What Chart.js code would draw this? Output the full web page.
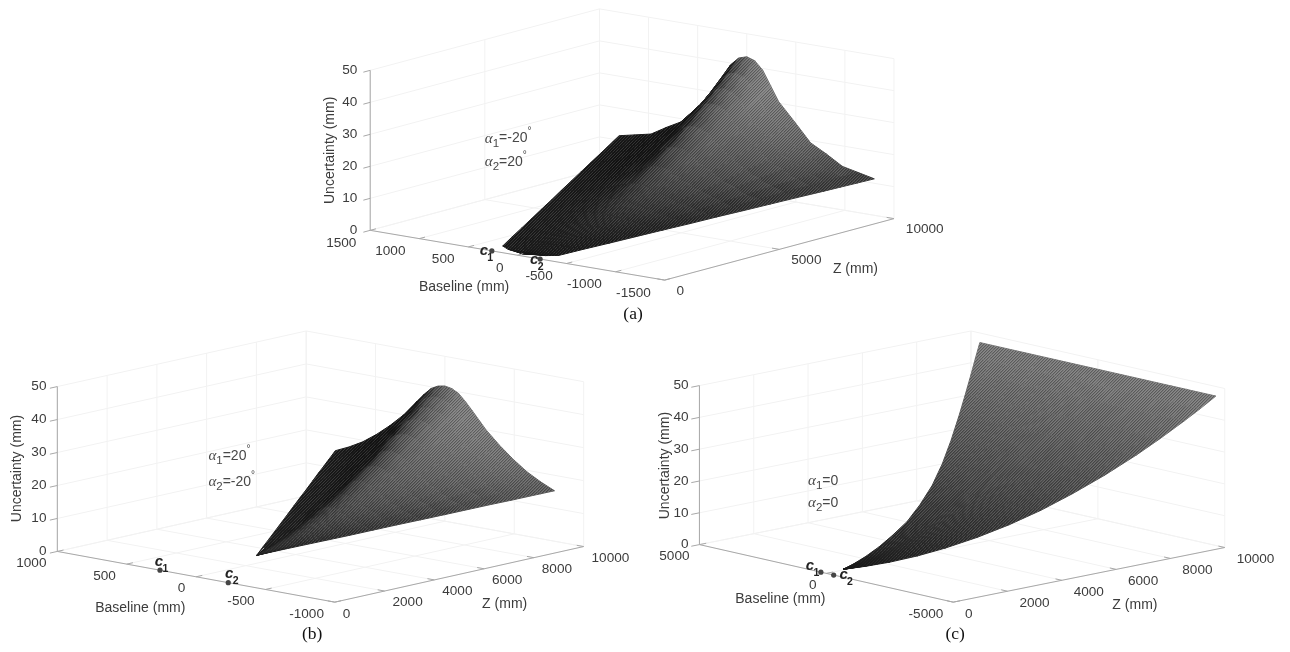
<!DOCTYPE html>
<html>
<head>
<meta charset="utf-8">
<title>Uncertainty surfaces</title>
<script src="https://cdn.jsdelivr.net/npm/chart.js@4"></script>
<style>
  html, body { margin: 0; padding: 0; background: #fff; }
  body { position: relative; width: 1290px; height: 652px; overflow: hidden; }
  canvas { position: absolute; filter: blur(0.4px); }
</style>
</head>
<body>
<canvas id="chartA" width="680" height="328" style="left:300px;top:0"></canvas>
<canvas id="chartB" width="640" height="326" style="left:0;top:326px"></canvas>
<canvas id="chartC" width="640" height="326" style="left:650px;top:326px"></canvas>
<script>
// Shared axis ticks
const uncertaintyTicks = [0, 10, 20, 30, 40, 50];
// Share of each row's half width, centre out to the edge
const widthFractions = [0, 0.0625, 0.125, 0.1875, 0.25, 0.375, 0.5, 0.625, 0.75, 0.875, 1];

// Panel (a), alpha1=-20, alpha2=20
const aBaselineTicks = [1500, 1000, 500, 0, -500, -1000, -1500];
const aZTicks = [0, 5000, 10000];
const aCameras = [261, -231];
const aRowsZ = [210, 400, 580, 1300, 2100, 2900, 3700, 4500, 5300, 6100, 6900, 7700, 8500, 9000, 9500, 10000];
const aHalfWidth = [0, 190, 285, 363, 449, 535, 621, 707, 793, 880, 966, 1052, 1138, 1192, 1246, 1300];
const aUncertainty = [
  [0.1],
  [0.1],
  [0.3],
  [1.2],
  [2.4, 2.4, 2.4, 2.35, 2.3, 2.3, 2.2, 2.2, 2.1, 2.1, 2.1],
  [3.9, 3.9, 3.9, 3.85, 3.8, 3.6, 3.5, 3.3, 3.2, 3.1, 3.05],
  [5.9, 5.9, 5.8, 5.7, 5.6, 5.2, 4.9, 4.6, 4.4, 4.2, 4.0],
  [8.7, 8.65, 8.5, 8.2, 7.9, 7.3, 6.6, 6.1, 5.6, 5.2, 4.9],
  [12, 11.9, 11.6, 11.1, 10.6, 9.5, 8.5, 7.7, 6.9, 6.4, 5.9],
  [15.9, 15.75, 15.3, 14.4, 13.5, 12, 10.4, 9.3, 8.2, 7.4, 6.8],
  [20.4, 20.15, 19.4, 18.1, 16.7, 14.6, 12.3, 10.9, 9.4, 8.5, 7.75],
  [25.4, 25.05, 24, 22.1, 20.2, 17.2, 14.4, 12.5, 10.7, 9.6, 8.7],
  [30.9, 30.5, 29, 26.4, 23.7, 19.9, 16.2, 14, 11.7, 10.6, 9.6],
  [34.7, 34.1, 32.3, 29.2, 25.9, 21.6, 17, 14.9, 12.4, 11.2, 10.2],
  [38.6, 37.9, 35.8, 32, 28, 23.3, 18.3, 15.8, 13, 11.9, 10.8],
  [42.8, 42, 39.5, 35, 30.5, 25, 19.3, 16.6, 13.6, 12.5, 11.4],
];

// Panel (b), alpha1=20, alpha2=-20
const bBaselineTicks = [1000, 500, 0, -500, -1000];
const bZTicks = [0, 2000, 4000, 6000, 8000, 10000];
const bCameras = [260, -232];
const bRowsZ = [2440, 3000, 3600, 4200, 4800, 5400, 6000, 6600, 7200, 7800, 8400, 8900, 9300, 9650, 10000];
const bHalfWidth = [0, 59, 121, 184, 247, 309, 372, 435, 497, 560, 623, 675, 717, 753, 790];
const bUncertainty = [
  [2.4],
  [3.7, 3.7, 3.7, 3.65, 3.6, 3.6, 3.5, 3.5, 3.4, 3.4, 3.4],
  [5.3, 5.3, 5.2, 5.15, 5.1, 4.9, 4.8, 4.7, 4.5, 4.5, 4.4],
  [7.2, 7.15, 7.1, 6.95, 6.8, 6.4, 6.2, 5.9, 5.7, 5.5, 5.4],
  [9.45, 9.4, 9.3, 9, 8.7, 8.1, 7.7, 7.3, 6.9, 6.6, 6.4],
  [12, 11.9, 11.7, 11.4, 11, 10.1, 9.3, 8.7, 8.2, 7.8, 7.45],
  [14.8, 14.7, 14.4, 13.9, 13.3, 12.1, 11.1, 10.3, 9.5, 9, 8.5],
  [17.9, 17.8, 17.4, 16.7, 15.9, 14.3, 13, 11.9, 10.9, 10.1, 9.5],
  [21.3, 21.15, 20.7, 19.8, 18.8, 16.7, 15, 13.5, 12.3, 11.3, 10.5],
  [24.9, 24.7, 24.1, 23, 21.8, 19.2, 17.1, 15.3, 13.7, 12.5, 11.55],
  [28.9, 28.7, 28, 26.6, 25.1, 21.9, 19.4, 17.2, 15.3, 13.8, 12.6],
  [32.5, 32.2, 31.4, 29.8, 28.1, 24.3, 21.3, 18.8, 16.5, 14.8, 13.4],
  [35.5, 35.2, 34.3, 32.5, 30.5, 26.3, 23, 20.1, 17.6, 15.7, 14.1],
  [38.2, 37.8, 36.8, 34.8, 32.7, 28.1, 24.5, 21.3, 18.5, 16.4, 14.7],
  [41, 40.6, 39.5, 37.4, 35, 30, 26, 22.5, 19.5, 17.2, 15.3],
];

// Panel (c), alpha1=0, alpha2=0. Surface is flat across the baseline.
const cBaselineTicks = [5000, 0, -5000];
const cZTicks = [0, 2000, 4000, 6000, 8000, 10000];
const cCameras = [214, -290];
const cRowsZ = [630, 1200, 1800, 2500, 3200, 4000, 4800, 5600, 6400, 7200, 8000, 8600, 9200, 9600, 10000];
const cHalfWidthPos = [0, 185, 380, 605, 835, 1090, 1440, 1823, 2280, 2790, 3320, 3723, 4125, 4395, 4650];
const cHalfWidthNeg = [0, 283, 581, 928, 1275, 1672, 2070, 2467, 2864, 3261, 3658, 3955, 4253, 4452, 4650];
const cUncertainty = [[0.2], [0.7], [1.5], [2.9], [4.8], [7.5], [10.8], [14.7], [19.3], [24.4], [30.1], [34.8], [39.8], [43.3], [47]];

const SANS = '"Liberation Sans", Arial, sans-serif';
const SERIF = '"Liberation Serif", "Times New Roman", serif';
const TEXT_COLOR = "#3c3c3c";
const U_MAX = 50;

const panels = [
  {
    id: "chartA", left: 300, top: 0, width: 680, height: 328, shadeGain: 125,
    origin: [367, 232], bVec: [298, 51], zVec: [232, -63], uVec: [0, -164],
    bTicks: aBaselineTicks, zTicks: aZTicks, cameras: aCameras,
    rowsZ: aRowsZ, widthPos: aHalfWidth, widthNeg: aHalfWidth, uTable: aUncertainty,
    bOffset: [-14, 13], zOffset: [12, 11], uRight: 354,
    baselineTitle: [462, 290], zTitle: [858, 272], uTitle: [326, 150],
    alpha: [[483, 138, "-20", true], [483, 162, "20", true]],
    camLabels: [[482, 253], [533, 262]],
    caption: ["(a)", 633, 318],
  },
  {
    id: "chartB", left: 0, top: 326, width: 640, height: 326, shadeGain: 125,
    origin: [54, 553], bVec: [281, 52], zVec: [252, -57], uVec: [0, -169],
    bTicks: bBaselineTicks, zTicks: bZTicks, cameras: bCameras,
    rowsZ: bRowsZ, widthPos: bHalfWidth, widthNeg: bHalfWidth, uTable: bUncertainty,
    bOffset: [-11, 12], zOffset: [8, 12], uRight: 43,
    baselineTitle: [138, 611], zTitle: [507, 607], uTitle: [13, 468],
    alpha: [[207, 455, "20", true], [207, 482, "-20", true]],
    camLabels: [[157, 564], [228, 576]],
    caption: ["(b)", 312, 638],
  },
  {
    id: "chartC", left: 650, top: 326, width: 640, height: 326, shadeGain: 165,
    origin: [696, 546], bVec: [257, 59], zVec: [275, -56], uVec: [0, -163],
    bTicks: cBaselineTicks, zTicks: cZTicks, cameras: cCameras,
    rowsZ: cRowsZ, widthPos: cHalfWidthPos, widthNeg: cHalfWidthNeg, uTable: cUncertainty,
    bOffset: [-10, 12], zOffset: [12, 12], uRight: 685,
    baselineTitle: [778, 602], zTitle: [1137, 608], uTitle: [661, 465],
    alpha: [[806, 481, "0", false], [806, 503, "0", false]],
    camLabels: [[808, 568], [842, 577]],
    caption: ["(c)", 955, 638],
  },
];

// Orthographic MATLAB style view: baseline, Z and uncertainty to view coordinates
function makeProjection(p) {
  const bMax = p.bTicks[0];
  const bMin = p.bTicks[p.bTicks.length - 1];
  const zMax = p.zTicks[p.zTicks.length - 1];
  return function (b, z, u) {
    const tb = (bMax - b) / (bMax - bMin);
    const tz = z / zMax;
    const tu = u / U_MAX;
    return {
      x: p.origin[0] + tb * p.bVec[0] + tz * p.zVec[0] + tu * p.uVec[0],
      y: p.origin[1] + tb * p.bVec[1] + tz * p.zVec[1] + tu * p.uVec[1],
    };
  };
}

// Diagonal speckle laid over the cells, reads like the dense mesh of the original
function meshOverlay(ctx) {
  const tile = document.createElement("canvas");
  tile.width = 3;
  tile.height = 3;
  const t = tile.getContext("2d");
  for (let i = 0; i < 3; i++) {
    t.fillStyle = "rgba(255,255,255,0.13)";
    t.fillRect(2 - i, i, 1, 1);
    t.fillStyle = "rgba(0,0,0,0.24)";
    t.fillRect((3 - i) % 3, i, 1, 1);
  }
  return ctx.createPattern(tile, "repeat");
}

function polygonArea(pts) {
  let sum = 0;
  for (let i = 0; i < pts.length; i++) {
    const a = pts[i];
    const c = pts[(i + 1) % pts.length];
    sum += a.x * c.y - c.x * a.y;
  }
  return sum / 2;
}

function rowValue(table, row, col) {
  const r = table[row];
  return r[Math.min(col, r.length - 1)];
}

// Surface node of a row, signedCol runs from the negative baseline edge to the positive one
function surfaceNode(p, row, signedCol) {
  const col = Math.abs(signedCol);
  const width = signedCol < 0 ? p.widthNeg[row] : p.widthPos[row];
  const b = (signedCol < 0 ? -1 : 1) * width * widthFractions[col];
  return { b: b, z: p.rowsZ[row], u: rowValue(p.uTable, row, col) };
}

function grayText(v) {
  const c = Math.round(v);
  return "rgb(" + c + "," + c + "," + c + ")";
}

function surfaceDatasets(p, project, ctx) {
  const sets = [];
  const last = widthFractions.length - 1;
  const rows = p.rowsZ.length - 1;
  const cols = 2 * last;
  const zMax = p.zTicks[p.zTicks.length - 1];
  const cell = (row, c) => {
    const nodes = [
      surfaceNode(p, row, c - last),
      surfaceNode(p, row, c - last + 1),
      surfaceNode(p, row + 1, c - last + 1),
      surfaceNode(p, row + 1, c - last),
    ];
    return { nodes: nodes, pts: nodes.map((n) => project(n.b, n.z, n.u)) };
  };

  // Steeper cells spread the mesh lines out and look lighter, far cells too
  const shades = [];
  for (let row = 0; row < rows; row++) {
    shades.push([]);
    for (let c = 0; c < cols; c++) {
      const q = cell(row, c);
      const flatArea = polygonArea(q.nodes.map((n) => project(n.b, n.z, 0)));
      const stretch = Math.abs(flatArea) > 0.01 ? polygonArea(q.pts) / flatArea : 1;
      const zShare = p.rowsZ[row] / zMax;
      const lift = 1 - Math.exp(-Math.max(0, stretch - 1) / 2.5);
      shades[row].push(20 + p.shadeGain * lift * (0.3 + 0.7 * zShare));
    }
  }
  const nodeShade = (row, c) => {
    let sum = 0;
    let n = 0;
    for (let r = row - 1; r <= row; r++) {
      for (let k = c - 1; k <= c; k++) {
        if (r >= 0 && r < rows && k >= 0 && k < cols) {
          sum += shades[r][k];
          n++;
        }
      }
    }
    return sum / n;
  };

  const overlay = meshOverlay(ctx);
  // Chart.js paints high dataset indexes first, so nearest cells go in first
  for (let row = 0; row < rows; row++) {
    for (let c = 0; c < cols; c++) {
      const pts = cell(row, c).pts;
      const corner = [
        { s: nodeShade(row, c), p: pts[0] },
        { s: nodeShade(row, c + 1), p: pts[1] },
        { s: nodeShade(row + 1, c + 1), p: pts[2] },
        { s: nodeShade(row + 1, c), p: pts[3] },
      ].sort((m, n) => m.s - n.s);
      const low = corner[0];
      const high = corner[3];
      const grad = ctx.createLinearGradient(
        low.p.x - p.left, low.p.y - p.top, high.p.x - p.left, high.p.y - p.top
      );
      grad.addColorStop(0, grayText(low.s));
      grad.addColorStop(1, grayText(high.s));
      const ring = pts.concat([pts[0]]);
      sets.push({ data: ring, fill: "shape", backgroundColor: overlay, borderWidth: 0, pointRadius: 0, tension: 0 });
      sets.push({ data: ring, fill: "shape", backgroundColor: grad, borderColor: grad, borderWidth: 1, pointRadius: 0, tension: 0 });
    }
  }
  return sets;
}

function lineSet(points, color) {
  return { data: points, borderColor: color, borderWidth: 1, pointRadius: 0, fill: false, tension: 0 };
}

function frameDatasets(p, project) {
  const bMax = p.bTicks[0];
  const bMin = p.bTicks[p.bTicks.length - 1];
  const zMax = p.zTicks[p.zTicks.length - 1];
  const axisColor = "#a8a8a8";
  const gridColor = "#f2f2f2";
  const axes = [
    lineSet([project(bMax, 0, 0), project(bMax, 0, U_MAX)], axisColor),
    lineSet([project(bMax, 0, 0), project(bMin, 0, 0)], axisColor),
    lineSet([project(bMin, 0, 0), project(bMin, zMax, 0)], axisColor),
  ];
  const grid = [];
  uncertaintyTicks.forEach((u) => {
    axes.push(lineSet([project(bMax, 0, u), project(bMax, -zMax * 0.03, u)], axisColor));
    grid.push(lineSet([project(bMax, 0, u), project(bMax, zMax, u)], gridColor));
    grid.push(lineSet([project(bMax, zMax, u), project(bMin, zMax, u)], gridColor));
  });
  p.bTicks.forEach((b) => {
    axes.push(lineSet([project(b, 0, 0), project(b, zMax * 0.025, 0)], axisColor));
    grid.push(lineSet([project(b, 0, 0), project(b, zMax, 0)], gridColor));
    grid.push(lineSet([project(b, zMax, 0), project(b, zMax, U_MAX)], gridColor));
  });
  p.zTicks.forEach((z) => {
    axes.push(lineSet([project(bMin, z, 0), project(bMin + (bMax - bMin) * 0.025, z, 0)], axisColor));
    grid.push(lineSet([project(bMin, z, 0), project(bMax, z, 0)], gridColor));
    grid.push(lineSet([project(bMax, z, 0), project(bMax, z, U_MAX)], gridColor));
  });
  return { axes: axes, grid: grid };
}

function cameraDataset(p, project) {
  return {
    data: p.cameras.map((b) => project(b, 0, 0)),
    showLine: false,
    pointRadius: 2.6,
    pointBackgroundColor: "#444",
    pointBorderWidth: 0,
  };
}

// Tick labels, titles and notes for the 3D axes
function panelTextPlugin(p, project) {
  return {
    id: "panelText",
    afterDraw(chart) {
      const ctx = chart.ctx;
      const sx = chart.scales.x;
      const sy = chart.scales.y;
      const put = (text, x, y, font, align, color) => {
        ctx.font = font;
        ctx.textAlign = align;
        ctx.textBaseline = "middle";
        ctx.fillStyle = color || TEXT_COLOR;
        ctx.fillText(text, sx.getPixelForValue(x), sy.getPixelForValue(y));
      };
      const tickFont = "13.6px " + SANS;
      const titleFont = "14px " + SANS;
      ctx.save();

      uncertaintyTicks.forEach((u) => {
        const pos = project(p.bTicks[0], 0, u);
        put(String(u), p.uRight, pos.y, tickFont, "right");
      });
      p.bTicks.forEach((b) => {
        const pos = project(b, 0, 0);
        put(String(b), pos.x + p.bOffset[0], pos.y + p.bOffset[1], tickFont, "right");
      });
      const bMin = p.bTicks[p.bTicks.length - 1];
      p.zTicks.forEach((z) => {
        const pos = project(bMin, z, 0);
        put(String(z), pos.x + p.zOffset[0], pos.y + p.zOffset[1], tickFont, "left");
      });

      put("Baseline (mm)", p.baselineTitle[0], p.baselineTitle[1], titleFont, "center");
      put("Z (mm)", p.zTitle[0], p.zTitle[1], titleFont, "center");
      ctx.save();
      ctx.translate(sx.getPixelForValue(p.uTitle[0]), sy.getPixelForValue(p.uTitle[1]));
      ctx.rotate(-Math.PI / 2);
      ctx.font = titleFont;
      ctx.textAlign = "center";
      ctx.textBaseline = "middle";
      ctx.fillStyle = TEXT_COLOR;
      ctx.fillText("Uncertainty (mm)", 0, 0);
      ctx.restore();

      // alpha notes, glyph by glyph for the sub and superscripts
      p.alpha.forEach((note, i) => {
        let x = sx.getPixelForValue(note[0]);
        const y = sy.getPixelForValue(note[1]);
        const piece = (text, font, dy) => {
          ctx.font = font;
          ctx.textAlign = "left";
          ctx.textBaseline = "middle";
          ctx.fillStyle = "#484848";
          ctx.fillText(text, x, y + dy);
          x += ctx.measureText(text).width;
        };
        piece("α", "italic 15px " + SERIF, 0);
        piece(String(i + 1), "11.5px " + SANS, 5);
        piece("=" + note[2], "14px " + SANS, 0);
        if (note[3]) piece("°", "10px " + SANS, -7);
      });

      // camera labels c1, c2
      p.camLabels.forEach((lab, i) => {
        put("c", lab[0], lab[1], "italic bold 15px " + SANS, "center", "#222");
        put(String(i + 1), lab[0] + 6.5, lab[1] + 7.5, "bold 10.5px " + SANS, "center", "#222");
      });

      put(p.caption[0], p.caption[1], p.caption[2], "17.5px " + SERIF, "center", "#111");
      ctx.restore();
    },
  };
}

panels.forEach((p) => {
  const canvas = document.getElementById(p.id);
  const project = makeProjection(p);
  const frame = frameDatasets(p, project);
  const datasets = [cameraDataset(p, project)]
    .concat(frame.axes)
    .concat(surfaceDatasets(p, project, canvas.getContext("2d")))
    .concat(frame.grid);

  new Chart(canvas, {
    type: "line",
    data: { datasets: datasets },
    options: {
      responsive: false,
      animation: false,
      layout: { padding: 0 },
      events: [],
      plugins: { legend: { display: false }, tooltip: { enabled: false } },
      scales: {
        x: { type: "linear", display: false, min: p.left, max: p.left + p.width },
        y: { type: "linear", display: false, reverse: true, min: p.top, max: p.top + p.height },
      },
    },
    plugins: [panelTextPlugin(p, project)],
  });
});
</script>
</body>
</html>
